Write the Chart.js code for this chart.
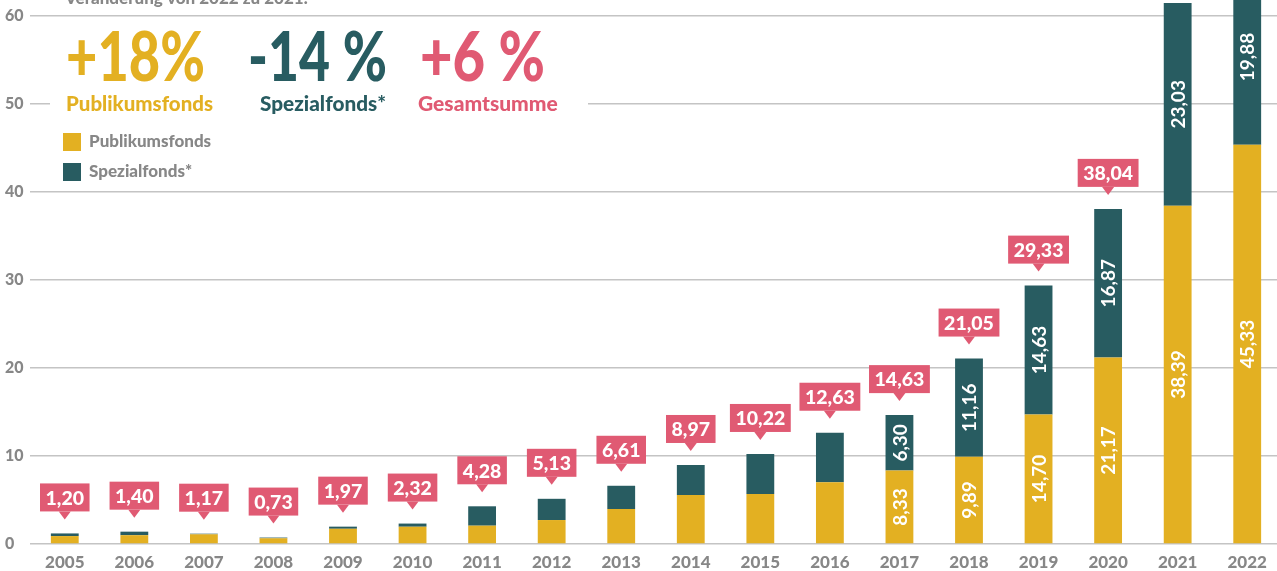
<!DOCTYPE html>
<html>
<head>
<meta charset="utf-8">
<script src="https://cdn.jsdelivr.net/npm/chart.js@4"></script>
<style>
  html, body { margin: 0; padding: 0; background: #fff; overflow: hidden; }
  canvas { display: block; }
</style>
</head>
<body>
<canvas id="chart" width="1282" height="571"></canvas>
<script>
const jahre = ["2005","2006","2007","2008","2009","2010","2011","2012","2013","2014","2015","2016","2017","2018","2019","2020","2021","2022"];
const publikumsfonds = [0.90, 1.00, 1.10, 0.65, 1.73, 1.96, 2.08, 2.72, 3.97, 5.56, 5.67, 7.00, 8.33, 9.89, 14.70, 21.17, 38.39, 45.33];
const spezialfonds = [0.30, 0.40, 0.07, 0.08, 0.24, 0.36, 2.20, 2.41, 2.64, 3.41, 4.55, 5.63, 6.30, 11.16, 14.63, 16.87, 23.03, 19.88];
// Gesamtsummen in den Sprechblasen (2021 und 2022 ohne Blase)
const gesamt = [1.20, 1.40, 1.17, 0.73, 1.97, 2.32, 4.28, 5.13, 6.61, 8.97, 10.22, 12.63, 14.63, 21.05, 29.33, 38.04];
const yTicks = [0, 10, 20, 30, 40, 50, 60];
const innenLabelAb = 12; // ab 2017 Werte in den Balken

const GELB = "#e3b022";
const PETROL = "#285c61";
const ROSA = "#e05a73";
const GRAU = "#878787";
const FONT = "Lato, 'Open Sans', sans-serif";

const fmt = v => v.toFixed(2).replace(".", ",");

const overlay = {
  id: "overlay",
  afterDatasetsDraw(chart) {
    const ctx = chart.ctx;
    const pub = chart.getDatasetMeta(0).data;
    const spez = chart.getDatasetMeta(1).data;

    // Werte in den Balken
    ctx.save();
    ctx.beginPath();
    ctx.rect(chart.chartArea.left, chart.chartArea.top, chart.chartArea.right - chart.chartArea.left, chart.chartArea.bottom - chart.chartArea.top);
    ctx.clip();
    ctx.fillStyle = "#fff";
    ctx.font = "bold 19px " + FONT;
    ctx.textAlign = "center";
    ctx.textBaseline = "middle";
    for (let i = innenLabelAb; i < jahre.length; i++) {
      [[pub[i], publikumsfonds[i]], [spez[i], spezialfonds[i]]].forEach(([bar, v]) => {
        ctx.save();
        ctx.translate(bar.x, (bar.y + bar.base) / 2);
        ctx.rotate(-Math.PI / 2);
        ctx.fillText(fmt(v), 0, 1);
        ctx.restore();
      });
    }
    ctx.restore();

    // Sprechblasen mit Gesamtsumme
    ctx.save();
    ctx.font = "900 19.5px " + FONT;
    ctx.textAlign = "center";
    ctx.textBaseline = "middle";
    gesamt.forEach((v, i) => {
      const bar = spez[i];
      const tip = bar.y - 14;
      const boxBottom = tip - 8;
      const txt = fmt(v);
      const w = ctx.measureText(txt).width + 11;
      const h = 28;
      ctx.fillStyle = ROSA;
      ctx.fillRect(bar.x - w / 2, boxBottom - h, w, h);
      ctx.beginPath();
      ctx.moveTo(bar.x - 6, boxBottom);
      ctx.lineTo(bar.x + 6, boxBottom);
      ctx.lineTo(bar.x, tip);
      ctx.closePath();
      ctx.fill();
      ctx.fillStyle = "#fff";
      ctx.fillText(txt, bar.x, boxBottom - h / 2 + 1);
    });
    ctx.restore();

    // Kopfbereich
    ctx.save();
    ctx.fillStyle = "#fff";
    ctx.fillRect(50, 24, 538, 160);
    ctx.textBaseline = "alphabetic";
    ctx.textAlign = "left";

    ctx.fillStyle = GRAU;
    ctx.font = "900 17px " + FONT;
    ctx.fillText("Veränderung von 2022 zu 2021:", 65, 4);

    ctx.font = "900 68px " + FONT;
    ctx.fillStyle = GELB;
    ctx.fillText("+18%", 66, 81, 139);
    ctx.fillStyle = PETROL;
    ctx.fillText("-14 %", 248, 81, 139);
    ctx.fillStyle = ROSA;
    ctx.fillText("+6 %", 420, 81, 125);

    ctx.font = "900 21px " + FONT;
    ctx.fillStyle = GELB;
    ctx.fillText("Publikumsfonds", 66, 111, 147);
    ctx.fillStyle = PETROL;
    ctx.fillText("Spezialfonds*", 260, 111, 126);
    ctx.fillStyle = ROSA;
    ctx.fillText("Gesamtsumme", 418, 111, 149);

    // Legende
    ctx.font = "900 17px " + FONT;
    ctx.fillStyle = GELB;
    ctx.fillRect(63, 133, 18, 18);
    ctx.fillStyle = PETROL;
    ctx.fillRect(63, 163, 18, 18);
    ctx.fillStyle = GRAU;
    ctx.fillText("Publikumsfonds", 89, 147, 129);
    ctx.fillText("Spezialfonds*", 89, 177, 110);
    ctx.restore();
  }
};

new Chart(document.getElementById("chart"), {
  type: "bar",
  data: {
    labels: jahre,
    datasets: [
      { label: "Publikumsfonds", data: publikumsfonds, backgroundColor: GELB },
      { label: "Spezialfonds*", data: spezialfonds, backgroundColor: PETROL }
    ]
  },
  options: {
    responsive: false,
    animation: false,
    devicePixelRatio: 1,
    layout: { padding: { left: 5, right: 0, top: 0, bottom: 0 } },
    datasets: { bar: { categoryPercentage: 1, barPercentage: 0.4 } },
    plugins: { legend: { display: false }, tooltip: { enabled: false } },
    scales: {
      x: {
        stacked: true,
        grid: { display: false },
        border: { display: false },
        ticks: { color: GRAU, font: { family: FONT, size: 17, weight: "900" }, padding: 0, maxRotation: 0 },
        afterFit(scale) { scale.height = 27; scale.paddingLeft = 0; scale.paddingRight = 0; }
      },
      y: {
        stacked: true,
        min: 0,
        max: 61.75,
        afterBuildTicks(scale) { scale.ticks = yTicks.map(v => ({ value: v })); },
        grid: { color: "#c4c4c4", lineWidth: 1.5, drawTicks: false },
        border: { display: false },
        ticks: { color: GRAU, font: { family: FONT, size: 16, weight: "900" }, crossAlign: "far", padding: 0 },
        afterFit(scale) { scale.width = 25; scale.paddingTop = 0; scale.paddingBottom = 0; }
      }
    }
  },
  plugins: [overlay]
});
</script>
</body>
</html>
